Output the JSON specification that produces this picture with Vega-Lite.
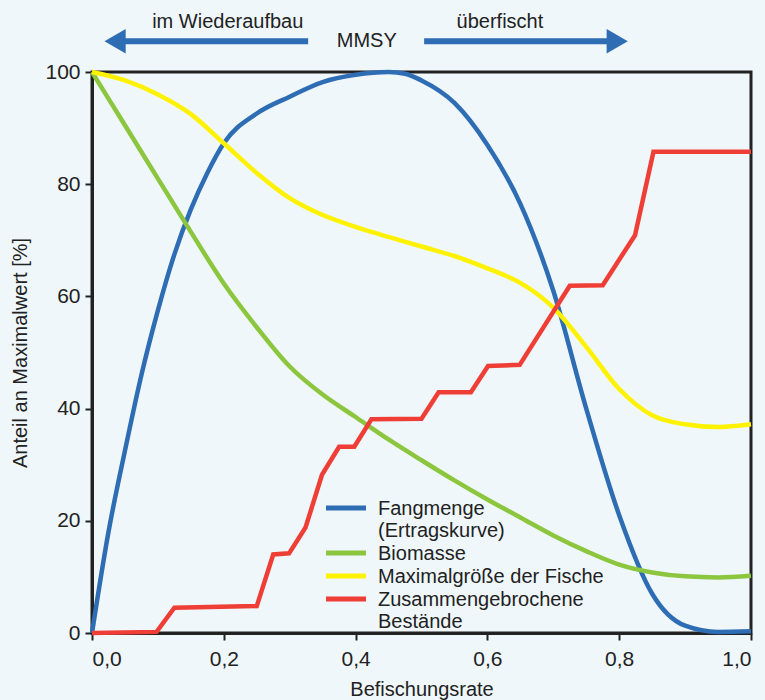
{
  "$schema": "https://vega.github.io/schema/vega-lite/v6.json",
  "width": 659,
  "height": 561,
  "autosize": "none",
  "padding": {"left": 92, "top": 72, "right": 14, "bottom": 67},
  "background": "#eff7fb",
  "config": {
    "font": "Liberation Sans",
    "view": {"stroke": "#222222", "strokeWidth": 3, "fill": "#eff7fb"},
    "axis": {"labelFont": "Liberation Sans", "titleFont": "Liberation Sans", "labelFontSize": 21, "titleFontSize": 20, "titleFontWeight": "normal", "labelColor": "#222222", "titleColor": "#222222", "domainColor": "#222222", "domainWidth": 3, "tickColor": "#222222", "tickWidth": 2, "tickSize": 7, "grid": false}
  },
  "datasets": {
    "curves": [
      {"x": 0, "y": 0, "s": "Fangmenge"},
      {"x": 0.025, "y": 18, "s": "Fangmenge"},
      {"x": 0.05, "y": 32.5, "s": "Fangmenge"},
      {"x": 0.075, "y": 46, "s": "Fangmenge"},
      {"x": 0.1, "y": 57.5, "s": "Fangmenge"},
      {"x": 0.125, "y": 67.5, "s": "Fangmenge"},
      {"x": 0.15, "y": 75.5, "s": "Fangmenge"},
      {"x": 0.175, "y": 82, "s": "Fangmenge"},
      {"x": 0.2, "y": 87.3, "s": "Fangmenge"},
      {"x": 0.25, "y": 92.6, "s": "Fangmenge"},
      {"x": 0.3, "y": 95.6, "s": "Fangmenge"},
      {"x": 0.35, "y": 98.2, "s": "Fangmenge"},
      {"x": 0.4, "y": 99.5, "s": "Fangmenge"},
      {"x": 0.45, "y": 100, "s": "Fangmenge"},
      {"x": 0.475, "y": 99.7, "s": "Fangmenge"},
      {"x": 0.5, "y": 98.5, "s": "Fangmenge"},
      {"x": 0.55, "y": 94.5, "s": "Fangmenge"},
      {"x": 0.6, "y": 87, "s": "Fangmenge"},
      {"x": 0.65, "y": 76.5, "s": "Fangmenge"},
      {"x": 0.7, "y": 61, "s": "Fangmenge"},
      {"x": 0.75, "y": 40, "s": "Fangmenge"},
      {"x": 0.8, "y": 21, "s": "Fangmenge"},
      {"x": 0.85, "y": 7, "s": "Fangmenge"},
      {"x": 0.9, "y": 1.3, "s": "Fangmenge"},
      {"x": 0.95, "y": 0.2, "s": "Fangmenge"},
      {"x": 1.0, "y": 0.3, "s": "Fangmenge"},
      {"x": 0, "y": 100, "s": "Biomasse"},
      {"x": 0.05, "y": 90.5, "s": "Biomasse"},
      {"x": 0.1, "y": 81, "s": "Biomasse"},
      {"x": 0.15, "y": 71.5, "s": "Biomasse"},
      {"x": 0.2, "y": 62.3, "s": "Biomasse"},
      {"x": 0.25, "y": 54.5, "s": "Biomasse"},
      {"x": 0.3, "y": 47.5, "s": "Biomasse"},
      {"x": 0.35, "y": 42.5, "s": "Biomasse"},
      {"x": 0.4, "y": 38.5, "s": "Biomasse"},
      {"x": 0.45, "y": 34.5, "s": "Biomasse"},
      {"x": 0.5, "y": 30.8, "s": "Biomasse"},
      {"x": 0.55, "y": 27.2, "s": "Biomasse"},
      {"x": 0.6, "y": 23.8, "s": "Biomasse"},
      {"x": 0.65, "y": 20.6, "s": "Biomasse"},
      {"x": 0.7, "y": 17.4, "s": "Biomasse"},
      {"x": 0.75, "y": 14.6, "s": "Biomasse"},
      {"x": 0.8, "y": 12.2, "s": "Biomasse"},
      {"x": 0.85, "y": 10.8, "s": "Biomasse"},
      {"x": 0.9, "y": 10.1, "s": "Biomasse"},
      {"x": 0.95, "y": 9.9, "s": "Biomasse"},
      {"x": 1.0, "y": 10.2, "s": "Biomasse"},
      {"x": 0, "y": 100, "s": "Maximalgröße der Fische"},
      {"x": 0.05, "y": 98.5, "s": "Maximalgröße der Fische"},
      {"x": 0.1, "y": 96, "s": "Maximalgröße der Fische"},
      {"x": 0.15, "y": 92.5, "s": "Maximalgröße der Fische"},
      {"x": 0.2, "y": 87.3, "s": "Maximalgröße der Fische"},
      {"x": 0.25, "y": 82, "s": "Maximalgröße der Fische"},
      {"x": 0.3, "y": 77.5, "s": "Maximalgröße der Fische"},
      {"x": 0.35, "y": 74.5, "s": "Maximalgröße der Fische"},
      {"x": 0.4, "y": 72.4, "s": "Maximalgröße der Fische"},
      {"x": 0.45, "y": 70.6, "s": "Maximalgröße der Fische"},
      {"x": 0.5, "y": 68.9, "s": "Maximalgröße der Fische"},
      {"x": 0.55, "y": 67.2, "s": "Maximalgröße der Fische"},
      {"x": 0.6, "y": 65, "s": "Maximalgröße der Fische"},
      {"x": 0.65, "y": 62.4, "s": "Maximalgröße der Fische"},
      {"x": 0.7, "y": 58, "s": "Maximalgröße der Fische"},
      {"x": 0.75, "y": 51, "s": "Maximalgröße der Fische"},
      {"x": 0.8, "y": 43.5, "s": "Maximalgröße der Fische"},
      {"x": 0.85, "y": 38.8, "s": "Maximalgröße der Fische"},
      {"x": 0.9, "y": 37.2, "s": "Maximalgröße der Fische"},
      {"x": 0.95, "y": 36.7, "s": "Maximalgröße der Fische"},
      {"x": 1.0, "y": 37.2, "s": "Maximalgröße der Fische"}
    ],
    "steps": [
      {"x": 0, "y": 0, "s": "Zusammengebrochene Bestände"},
      {"x": 0.098, "y": 0.2, "s": "Zusammengebrochene Bestände"},
      {"x": 0.125, "y": 4.5, "s": "Zusammengebrochene Bestände"},
      {"x": 0.25, "y": 4.8, "s": "Zusammengebrochene Bestände"},
      {"x": 0.275, "y": 14.0, "s": "Zusammengebrochene Bestände"},
      {"x": 0.299, "y": 14.2, "s": "Zusammengebrochene Bestände"},
      {"x": 0.324, "y": 18.8, "s": "Zusammengebrochene Bestände"},
      {"x": 0.349, "y": 28.2, "s": "Zusammengebrochene Bestände"},
      {"x": 0.375, "y": 33.2, "s": "Zusammengebrochene Bestände"},
      {"x": 0.398, "y": 33.2, "s": "Zusammengebrochene Bestände"},
      {"x": 0.424, "y": 38.1, "s": "Zusammengebrochene Bestände"},
      {"x": 0.5, "y": 38.2, "s": "Zusammengebrochene Bestände"},
      {"x": 0.526, "y": 42.9, "s": "Zusammengebrochene Bestände"},
      {"x": 0.575, "y": 42.9, "s": "Zusammengebrochene Bestände"},
      {"x": 0.601, "y": 47.6, "s": "Zusammengebrochene Bestände"},
      {"x": 0.649, "y": 47.8, "s": "Zusammengebrochene Bestände"},
      {"x": 0.725, "y": 61.9, "s": "Zusammengebrochene Bestände"},
      {"x": 0.775, "y": 62.0, "s": "Zusammengebrochene Bestände"},
      {"x": 0.824, "y": 70.9, "s": "Zusammengebrochene Bestände"},
      {"x": 0.852, "y": 85.8, "s": "Zusammengebrochene Bestände"},
      {"x": 1.0, "y": 85.8, "s": "Zusammengebrochene Bestände"}
    ],
    "labels": [
      {"x": 0.206, "y": 108.9, "t": "im Wiederaufbau"},
      {"x": 0.417, "y": 105.5, "t": "MMSY"},
      {"x": 0.619, "y": 108.9, "t": "überfischt"}
    ],
    "shafts": [
      {"x": 0.04, "x2": 0.328, "y": 105.5},
      {"x": 0.504, "x2": 0.79, "y": 105.5}
    ],
    "heads": [
      {"x": 0.035, "y": 105.5, "shape": "triangle-left"},
      {"x": 0.797, "y": 105.5, "shape": "triangle-right"}
    ]
  },
  "layer": [
    {
      "data": {"name": "curves"},
      "mark": {"type": "line", "interpolate": "monotone", "strokeWidth": 4.5, "clip": false},
      "encoding": {
        "x": {"field": "x", "type": "quantitative", "scale": {"domain": [0, 1], "nice": false}, "axis": {"values": [0, 0.2, 0.4, 0.6, 0.8, 1.0], "labelExpr": "replace(format(datum.value, '.1f'), '.', ',')", "title": "Befischungsrate", "titlePadding": 10, "labelPadding": 8}},
        "y": {"field": "y", "type": "quantitative", "scale": {"domain": [0, 100], "nice": false}, "axis": {"values": [0, 20, 40, 60, 80, 100], "title": "Anteil an Maximalwert [%]", "titlePadding": 14, "labelPadding": 5}},
        "color": {"field": "s", "type": "nominal", "scale": {"domain": ["Fangmenge", "Biomasse", "Maximalgröße der Fische", "Zusammengebrochene Bestände"], "range": ["#2e6db4", "#8cc63f", "#fff200", "#ef3e36"]}, "legend": {"title": null, "orient": "none", "legendX": 244, "legendY": 433, "padding": 0, "symbolType": "M-20,-7H20", "symbolSize": 4, "symbolStrokeWidth": 5, "labelFontSize": 20, "labelFont": "Liberation Sans", "labelColor": "#222222", "labelOffset": 22, "labelLimit": 400, "rowPadding": 2, "labelBaseline": "alphabetic", "labelExpr": "datum.label == 'Fangmenge' ? ['Fangmenge', '(Ertragskurve)'] : datum.label == 'Zusammengebrochene Bestände' ? ['Zusammengebrochene', 'Bestände'] : datum.label"}},
        "detail": {"field": "s"}
      }
    },
    {
      "data": {"name": "steps"},
      "mark": {"type": "line", "interpolate": "linear", "strokeWidth": 4.5, "strokeJoin": "miter", "clip": false},
      "encoding": {
        "x": {"field": "x", "type": "quantitative"},
        "y": {"field": "y", "type": "quantitative"},
        "color": {"field": "s", "type": "nominal"}
      }
    },
    {
      "data": {"name": "labels"},
      "mark": {"type": "text", "fontSize": 20, "font": "Liberation Sans", "color": "#222222", "baseline": "middle", "align": "center"},
      "encoding": {
        "x": {"field": "x", "type": "quantitative"},
        "y": {"field": "y", "type": "quantitative"},
        "text": {"field": "t"}
      }
    },
    {
      "data": {"name": "shafts"},
      "mark": {"type": "rule", "strokeWidth": 6, "color": "#2e6db4"},
      "encoding": {
        "x": {"field": "x", "type": "quantitative"},
        "x2": {"field": "x2"},
        "y": {"field": "y", "type": "quantitative"}
      }
    },
    {
      "data": {"name": "heads"},
      "mark": {"type": "point", "filled": true, "size": 600, "color": "#2e6db4", "opacity": 1},
      "encoding": {
        "x": {"field": "x", "type": "quantitative"},
        "y": {"field": "y", "type": "quantitative"},
        "shape": {"field": "shape", "type": "nominal", "scale": null}
      }
    }
  ]
}
